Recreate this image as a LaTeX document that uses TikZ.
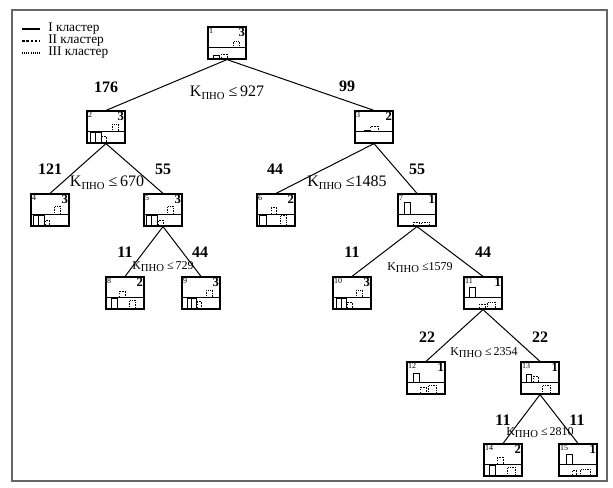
\documentclass[tikz,border=0pt]{standalone}
\usepackage{fontspec}
\setmainfont{Liberation Serif}
\usetikzlibrary{calc}
\tikzset{
  tbox/.style={draw, line width=0.9pt, minimum width=28.5pt, minimum height=24pt, inner sep=0pt},
  numlab/.style={anchor=north west, inner sep=0pt, font=\fontsize{6}{6}\selectfont},
  clab/.style={anchor=north east, inner sep=0pt, font=\fontsize{9.5}{9.5}\selectfont\bfseries},
  cnt/.style={font=\fontsize{12}{12}\selectfont\bfseries, inner sep=0pt},
  cond/.style={font=\fontsize{12}{12}\selectfont, inner sep=0pt},
  condsm/.style={font=\fontsize{9}{9}\selectfont, inner sep=0pt},
  edge/.style={line width=0.75pt},
  sI/.style={line width=0.6pt},
  sII/.style={line width=0.6pt, dash pattern=on 1.3pt off 0.9pt},
  sIII/.style={line width=0.6pt, dash pattern=on 0.5pt off 0.8pt},
  leg/.style={anchor=west, inner sep=0pt, font=\fontsize{10}{10}\selectfont}
}
\newcommand\tnode[5]{%
  \node[tbox] (#1) at (#2+19,#3+16) {};
  \draw[line width=0.6pt] ($(#1.north west)+(0,21)$) -- ($(#1.north east)+(0,21)$);
  \node[numlab] at ($(#1.north west)+(1.5,2)$) {#4};
  \node[clab] at ($(#1.north east)+(-1.5,1.5)$) {#5};
}
\newcommand\tbar[6]{%
  \draw[#2] ($(#1.north west)+(#3,#5)$) -- ++(0,-#6) -- ++(#4-#3,0) -- ++(0,#6);
}
\newcommand\Kp{K\raisebox{-0.35ex}{\fontsize{8}{8}\selectfont ПНО}}
\begin{document}
\begin{tikzpicture}[x=0.75pt,y=-0.75pt]
\useasboundingbox (0,0) rectangle (613,488);
\draw[line width=1.2pt, gray!80!black] (12,10) rectangle (607,481);
% legend
\coordinate (l1a) at (22,29); \coordinate (l1b) at (40,29);
\coordinate (l2a) at (22,41); \coordinate (l2b) at (40,41);
\coordinate (l3a) at (22,53); \coordinate (l3b) at (40,53);
\draw[line width=0.8pt] (l1a) -- (l1b);
\draw[line width=0.8pt, dash pattern=on 2pt off 1.2pt] (l2a) -- (l2b);
\draw[line width=0.8pt, dash pattern=on 0.6pt off 1pt] (l3a) -- (l3b);
\node[leg] (t1) at (48,29) {I кластер};
\node[leg] (t2) at (48,41) {II кластер};
\node[leg] (t3) at (48,53) {III кластер};
% nodes
\tnode{n1}{208}{27}{1}{3}
\tnode{n2}{87}{111}{2}{3}
\tnode{n3}{355}{111}{3}{2}
\tnode{n4}{31}{194}{4}{3}
\tnode{n5}{144}{194}{5}{3}
\tnode{n6}{257}{194}{6}{2}
\tnode{n7}{398}{194}{7}{1}
\tnode{n8}{106}{277}{8}{2}
\tnode{n9}{182}{277}{9}{3}
\tnode{n10}{333}{277}{10}{3}
\tnode{n11}{464}{277}{11}{1}
\tnode{n12}{407}{362}{12}{1}
\tnode{n13}{521}{362}{13}{1}
\tnode{n14}{484}{444}{14}{2}
\tnode{n15}{559}{444}{15}{1}
% bars
\tbar{n1}{sIII}{26}{32}{21}{6}
\tbar{n1}{sI}{6}{12}{32}{3}
\tbar{n1}{sII}{14}{20}{32}{4}
\tbar{n2}{sIII}{26}{32}{21}{7}
\tbar{n2}{sI}{4}{9}{32}{10}
\tbar{n2}{sI}{9}{15}{32}{10}
\tbar{n2}{sII}{15}{20}{32}{6}
\tbar{n3}{sII}{16}{24}{21}{5}
\tbar{n3}{sI}{10}{16}{21}{1}
\tbar{n4}{sIII}{24}{30}{21}{8}
\tbar{n4}{sI}{3}{8}{32}{10}
\tbar{n4}{sI}{8}{14}{32}{10}
\tbar{n4}{sII}{15}{19}{32}{5}
\tbar{n5}{sIII}{24}{30}{21}{8}
\tbar{n5}{sI}{3}{8}{32}{10}
\tbar{n5}{sI}{8}{14}{32}{10}
\tbar{n5}{sII}{15}{20}{32}{5}
\tbar{n6}{sII}{15}{20}{21}{7}
\tbar{n6}{sI}{3}{10}{32}{10}
\tbar{n6}{sIII}{24}{30}{32}{10}
\tbar{n7}{sI}{7}{13}{21}{12}
\tbar{n7}{sII}{16}{22}{32}{3}
\tbar{n7}{sIII}{24}{32}{32}{3}
\tbar{n8}{sII}{14}{20}{21}{6}
\tbar{n8}{sI}{6}{12}{32}{10}
\tbar{n8}{sIII}{24}{30}{32}{8}
\tbar{n9}{sIII}{25}{31}{21}{7}
\tbar{n9}{sI}{6}{10}{32}{10}
\tbar{n9}{sI}{10}{15}{32}{10}
\tbar{n9}{sII}{16}{20}{32}{7}
\tbar{n10}{sIII}{24}{30}{21}{7}
\tbar{n10}{sI}{4}{9}{32}{10}
\tbar{n10}{sI}{9}{14}{32}{10}
\tbar{n10}{sII}{15}{20}{32}{6}
\tbar{n11}{sI}{6}{12}{21}{10}
\tbar{n11}{sII}{16}{22}{32}{4}
\tbar{n11}{sIII}{24}{32}{32}{6}
\tbar{n12}{sI}{7}{13}{21}{9}
\tbar{n12}{sII}{14}{20}{32}{6}
\tbar{n12}{sIII}{22}{30}{32}{8}
\tbar{n13}{sI}{6}{11}{21}{8}
\tbar{n13}{sII}{13}{18}{21}{6}
\tbar{n13}{sIII}{22}{30}{32}{8}
\tbar{n14}{sII}{14}{20}{21}{7}
\tbar{n14}{sI}{6}{12}{32}{10}
\tbar{n14}{sIII}{24}{32}{32}{8}
\tbar{n15}{sI}{8}{14}{21}{10}
\tbar{n15}{sII}{14}{18}{32}{5}
\tbar{n15}{sIII}{22}{32}{32}{6}
% edges
\draw[edge] (n1.south) -- (n2.north);
\draw[edge] (n1.south) -- (n3.north);
\draw[edge] (n2.south) -- (n4.north);
\draw[edge] (n2.south) -- (n5.north);
\draw[edge] (n3.south) -- (n6.north);
\draw[edge] (n3.south) -- (n7.north);
\draw[edge] (n5.south) -- (n8.north);
\draw[edge] (n5.south) -- (n9.north);
\draw[edge] (n7.south) -- (n10.north);
\draw[edge] (n7.south) -- (n11.north);
\draw[edge] (n11.south) -- (n12.north);
\draw[edge] (n11.south) -- (n13.north);
\draw[edge] (n13.south) -- (n14.north);
\draw[edge] (n13.south) -- (n15.north);
% counts
\node[cnt] (c2) at (106,87) {176};
\node[cnt] (c3) at (347,86) {99};
\node[cnt] (c4) at (50,169) {121};
\node[cnt] (c5) at (163,169) {55};
\node[cnt] (c6) at (275,169) {44};
\node[cnt] (c7) at (417,169) {55};
\node[cnt] (c8) at (125,252) {11};
\node[cnt] (c9) at (200,252) {44};
\node[cnt] (c10) at (352,252) {11};
\node[cnt] (c11) at (483,252) {44};
\node[cnt] (c12) at (427,337) {22};
\node[cnt] (c13) at (540,337) {22};
\node[cnt] (c14) at (503,420) {11};
\node[cnt] (c15) at (577,420) {11};
% conditions
\node[cond] (k1) at (227,93) {\Kp\ ≤\,927};
\node[cond] (k2) at (107,183) {\Kp\ ≤\,670};
\node[cond] (k3) at (347,183) {\Kp\ ≤1485};
\node[condsm] (k5) at (163,267) {\Kp\ ≤\,729};
\node[condsm] (k7) at (420,268) {\Kp\ ≤1579};
\node[condsm] (k11) at (484,353) {\Kp\ ≤\,2354};
\node[condsm] (k13) at (540,433) {\Kp\ ≤\,2810};
\end{tikzpicture}
\end{document}
